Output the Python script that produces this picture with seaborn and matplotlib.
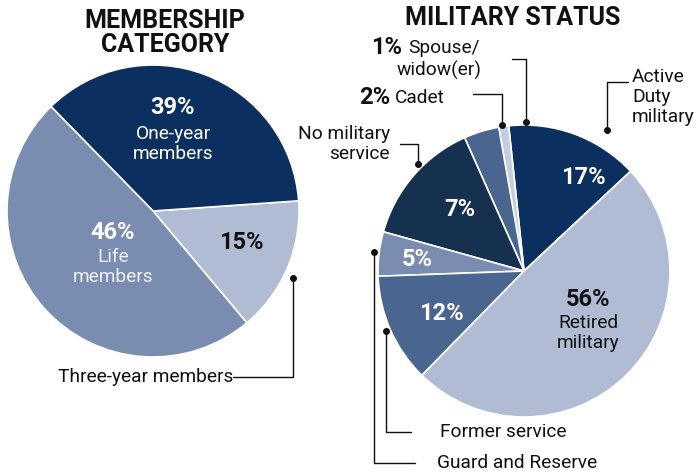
import matplotlib
matplotlib.use("Agg")
import matplotlib.pyplot as plt
import seaborn as sns

# --- DATEN ---
# Linke Torte: Mitgliedschaft (Anteile so wie im Bild gezeichnet, Text = beschriftete Prozente)
MEMBER_LABELS = ["Three-year members", "One-year members", "Life members"]
MEMBER_PCT = ["15%", "39%", "46%"]
MEMBER_DRAWN = [15.0, 36.2, 48.8]
MEMBER_COLORS = ["#b0bbd4", "#0b2f5f", "#7a8db0"]

# Rechte Torte: Militärstatus (gegen den Uhrzeigersinn ab "Active Duty")
STATUS_LABELS = ["Active Duty military", "Spouse/widow(er)", "Cadet", "No military service",
                 "Guard and Reserve", "Former service", "Retired military"]
STATUS_PCT = ["17%", "1%", "2%", "7%", "5%", "12%", "56%"]
STATUS_DRAWN = [14.7, 1.1, 3.9, 14.0, 4.9, 12.1, 49.3]
STATUS_COLORS = ["#0b2f5f", "#c5cde0", "#4a6590", "#16304f", "#7a8db0", "#4a6590", "#b0bbd4"]

W, H = 694, 473
FONT = "Roboto"
BODY = 13.8   # normale Schrift
PCT = 17      # fette Prozentzahlen

sns.set_theme(style="white")
plt.rcParams["font.family"] = [FONT, "DejaVu Sans"]

fig = plt.figure(figsize=(W / 100, H / 100), dpi=100)
ax = fig.add_axes([0, 0, 1, 1])

wp = dict(edgecolor="white", linewidth=1.2)
ax.pie(MEMBER_DRAWN, colors=MEMBER_COLORS, startangle=-50, counterclock=True,
       center=(153, H - 211), radius=146, wedgeprops=wp)
ax.pie(STATUS_DRAWN, colors=STATUS_COLORS, startangle=43.1, counterclock=True,
       center=(524, H - 271), radius=146, wedgeprops=wp)

ax.set_xlim(0, W)
ax.set_ylim(0, H)
ax.set_aspect("equal")
ax.axis("off")


def txt(x, y, s, size=BODY, bold=False, color="#111111", ha="center", **kw):
    ax.text(x, H - y, s, fontsize=size, fontweight="bold" if bold else "normal",
            color=color, ha=ha, va="center", **kw)


def pointer(xs, ys):
    ax.plot(xs, [H - y for y in ys], color="#111111", lw=1)
    ax.plot(xs[-1], H - ys[-1], "o", color="#111111", ms=4)


# Titel
txt(165, 33, "MEMBERSHIP\nCATEGORY", size=18, bold=True, linespacing=1.0)
txt(513, 18, "MILITARY STATUS", size=18, bold=True)

# Linke Torte - Beschriftungen
txt(173, 107, MEMBER_PCT[1], size=PCT, bold=True, color="white")
txt(173, 144, "One-year\nmembers", color="white", linespacing=1.15)
txt(113, 233, MEMBER_PCT[2], size=PCT, bold=True, color="white")
txt(113, 267, "Life\nmembers", color="#eef1f7", linespacing=1.15)
txt(241, 243, MEMBER_PCT[0], size=PCT, bold=True)
txt(233, 377, MEMBER_LABELS[0], ha="right")
pointer([233, 293, 293], [377, 377, 278])

# Rechte Torte - Prozente in den Stücken
txt(583, 177, STATUS_PCT[0], size=PCT, bold=True, color="white")
txt(460, 210, STATUS_PCT[3], size=PCT, bold=True, color="white")
txt(417, 260, STATUS_PCT[4], size=PCT, bold=True, color="white")
txt(441, 313, STATUS_PCT[5], size=PCT, bold=True, color="white")
txt(588, 300, STATUS_PCT[6], size=PCT, bold=True)
txt(588, 333, "Retired\nmilitary", linespacing=1.15)

# Rechte Torte - externe Beschriftungen
txt(632, 97, "Active\nDuty\nmilitary", ha="left", linespacing=1.15)
pointer([628, 607, 607], [82, 82, 130])

txt(402, 48, STATUS_PCT[1], size=PCT, bold=True, ha="right")
txt(408, 48, "Spouse/", ha="left")
txt(482, 70, "widow(er)", ha="right")
pointer([512, 526, 526], [59, 59, 122])

txt(390, 98, STATUS_PCT[2], size=PCT, bold=True, ha="right")
txt(395, 98, STATUS_LABELS[2], ha="left")
pointer([473, 502, 502], [94, 94, 125])

txt(390, 144, "No military\nservice", ha="right", linespacing=1.15)
pointer([400, 418, 418], [144, 144, 164])

txt(440, 432, STATUS_LABELS[5], ha="left")
pointer([411, 386, 386], [432, 432, 331])

txt(437, 463, STATUS_LABELS[4], ha="left")
pointer([415, 374, 374], [463, 463, 252])

fig.savefig("out.png", dpi=100)
